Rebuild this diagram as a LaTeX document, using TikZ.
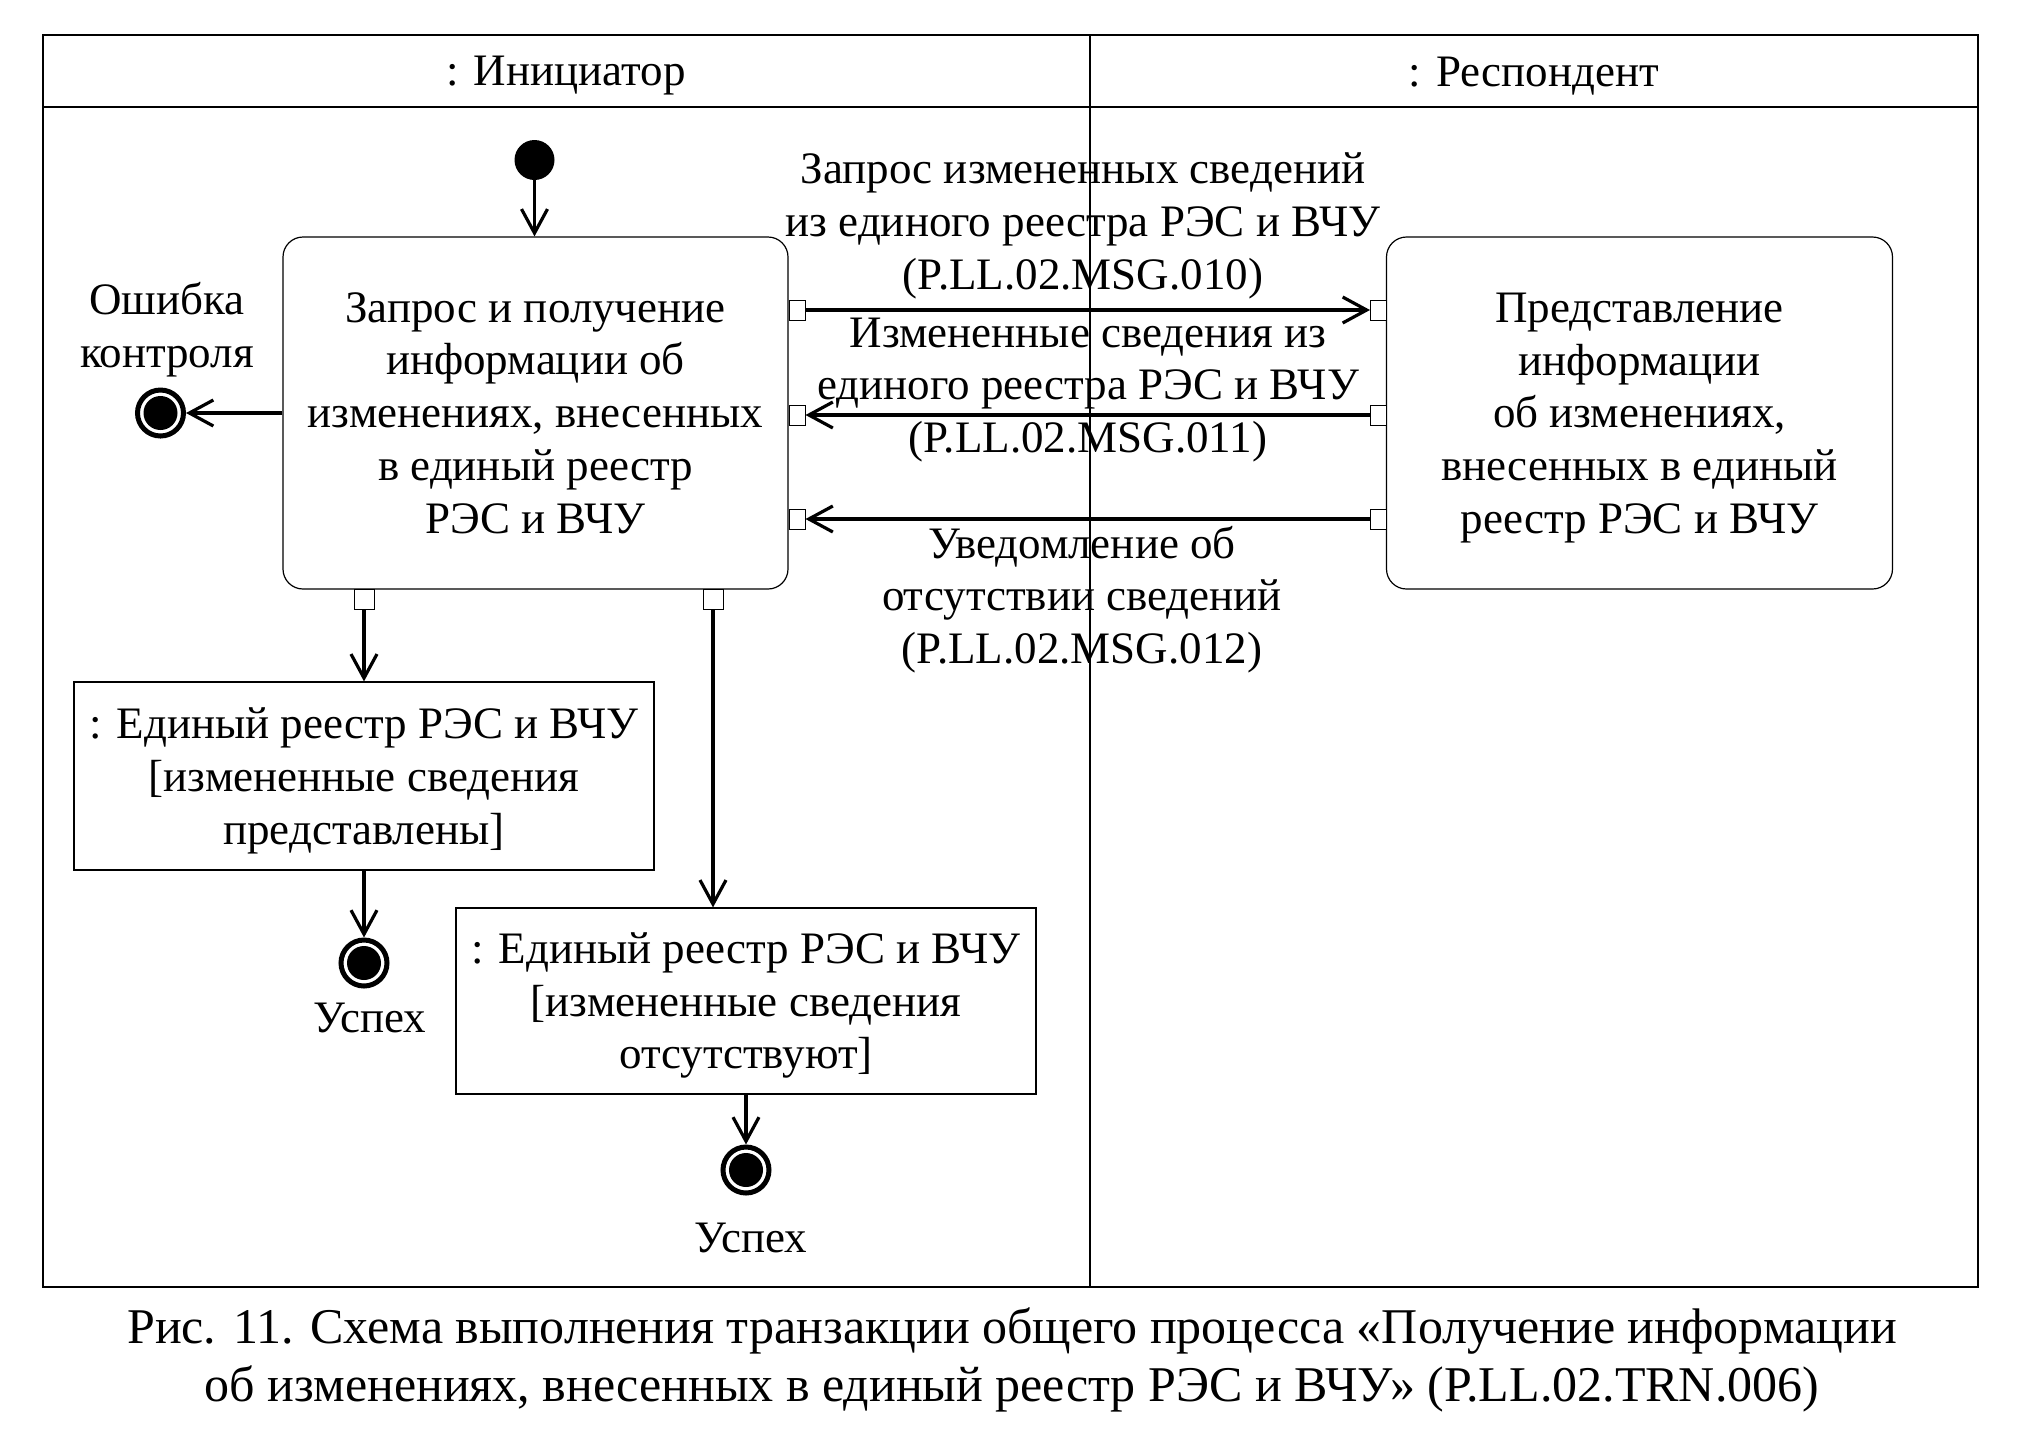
\documentclass[tikz,border=0pt]{standalone}
\usepackage{fontspec}
\setmainfont{Liberation Serif}
\usetikzlibrary{arrows.meta}
\begin{document}
\begin{tikzpicture}[x=0.5pt,y=-0.5pt,
  frame/.style={line width=0.6pt},
  txt/.style={font=\fontsize{22.5}{26.4}\selectfont, align=center, inner sep=0pt},
  act/.style={draw, line width=0.6pt, rounded corners=10pt},
  obj/.style={draw, line width=0.6pt},
  sport/.style={draw, fill=white, line width=0.5pt, minimum width=8pt, minimum height=10pt, inner sep=0pt},
  bport/.style={draw, fill=white, line width=0.5pt, minimum width=10pt, minimum height=10pt, inner sep=0pt},
  initnode/.style={circle, fill=black, minimum size=20pt, inner sep=0pt},
  finalnode/.style={circle, draw, line width=2.5pt, minimum size=23pt, inner sep=0pt,
     path picture={\fill[black] (path picture bounding box.center) circle (8.5pt);}},
  arr/.style={line width=1.6pt, -{Straight Barb[length=12pt,width=13pt]}}
]
\useasboundingbox (0,0) rectangle (2020,1448);
% frame and lanes
\draw[frame] (43,35) rectangle (1978,1287);
\draw[frame] (43,107) -- (1978,107);
\draw[frame] (1090,35) -- (1090,1287);
\node[txt] (h1) at (566,76) {: Инициатор};
\node[txt] (h2) at (1534,76) {: Респондент};

% activity and object boxes
\node[initnode] (init) at (534.5,160) {};
\node[act, minimum width=252.5pt, minimum height=176pt] (A) at (535.5,413) {};
\node[txt] (At) at (535.5,413)
  {Запрос и получение\\информации об\\изменениях, внесенных\\в единый реестр\\РЭС и ВЧУ};
\node[act, minimum width=253pt, minimum height=176pt] (B) at (1639.5,413) {};
\node[txt] (Bt) at (1639.5,418)
  {Представление\\информации\\об изменениях,\\внесенных в единый\\реестр РЭС и ВЧУ};

\node[sport] (pa1) at (797,310) {};
\node[sport] (pa2) at (797,415) {};
\node[sport] (pa3) at (797,519) {};
\node[sport] (pb1) at (1378.5,310) {};
\node[sport] (pb2) at (1378.5,415) {};
\node[sport] (pb3) at (1378.5,519) {};
\node[bport] (pd1) at (364,599) {};
\node[bport] (pd2) at (713,599) {};

\node[finalnode] (err) at (160.5,413) {};
\node[txt] (errl) at (167,330) {Ошибка\\контроля};

\node[obj, minimum width=290pt, minimum height=94pt] (O1) at (364,776) {};
\node[txt] (O1t) at (364,781)
  {: Единый реестр РЭС и ВЧУ\\{[}измененные сведения\\представлены{]}};
\node[obj, minimum width=290pt, minimum height=93pt] (O2) at (746,1001) {};
\node[txt] (O2t) at (746,1005.5)
  {: Единый реестр РЭС и ВЧУ\\{[}измененные сведения\\отсутствуют{]}};

\node[finalnode] (F1) at (364,963) {};
\node[txt] (F1l) at (370,1018) {Успех};
\node[finalnode] (F2) at (746,1170) {};
\node[txt] (F2l) at (751,1238) {Успех};

% message labels
\node[txt] (L1) at (1083,226) {Запрос измененных сведений\\из единого реестра РЭС и ВЧУ\\(P.LL.02.MSG.010)};
\node[txt] (L2) at (1088,390) {Измененные сведения из\\единого реестра РЭС и ВЧУ\\(P.LL.02.MSG.011)};
\node[txt] (L3) at (1082,599.5) {Уведомление об\\отсутствии сведений\\(P.LL.02.MSG.012)};

% connectors
\draw[arr] (init) -- (init |- A.north);
\draw[arr] (A.west) -- (err);
\draw[arr] (pa1.east) -- (pb1.west);
\draw[arr] (pb2.west) -- (pa2.east);
\draw[arr] (pb3.west) -- (pa3.east);
\draw[arr] (pd1.south) -- (pd1.south |- O1.north);
\draw[arr] (pd2.south) -- (pd2.south |- O2.north);
\draw[arr] (O1.south) -- (F1.north);
\draw[arr] (O2.south) -- (F2.north);

% caption
\node[font=\fontsize{25}{29}\selectfont, align=center, inner sep=0pt] (cap) at (1012,1360)
  {Рис. 11. Схема выполнения транзакции общего процесса «Получение информации\\об изменениях, внесенных в единый реестр РЭС и ВЧУ» (P.LL.02.TRN.006)};
\end{tikzpicture}
\end{document}
